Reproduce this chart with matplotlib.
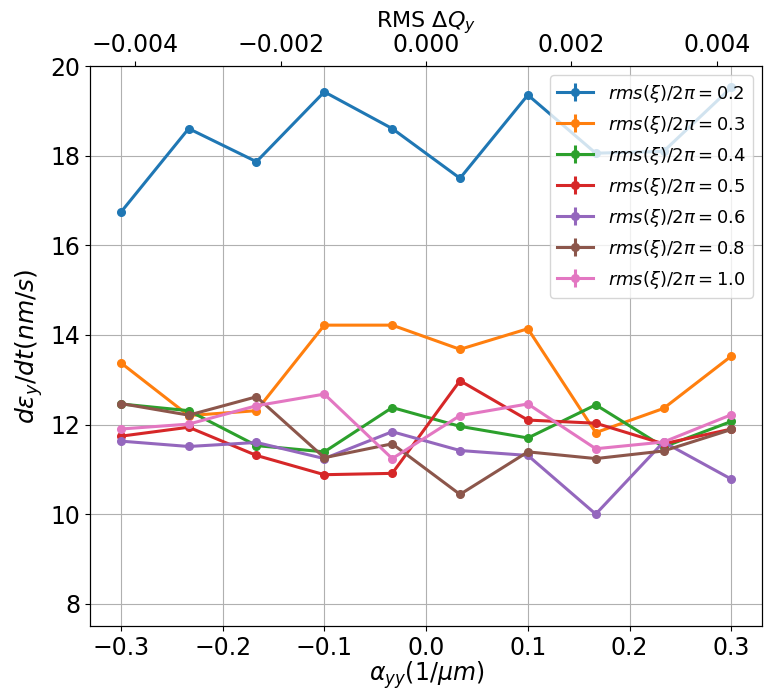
import matplotlib
matplotlib.use('Agg')
import matplotlib.pyplot as plt
import numpy as np

# alpha_yy values (1/um)
alpha = [-0.3, -0.2333, -0.1667, -0.1, -0.0333, 0.0333, 0.1, 0.1667, 0.2333, 0.3]

rms_labels = ['0.2', '0.3', '0.4', '0.5', '0.6', '0.8', '1.0']

rate_02 = [16.74, 18.61, 17.87, 19.43, 18.61, 17.50, 19.36, 18.06, 18.10, 19.53]
rate_03 = [13.38, 12.20, 12.31, 14.22, 14.22, 13.68, 14.14, 11.82, 12.36, 13.53]
rate_04 = [12.46, 12.31, 11.53, 11.39, 12.38, 11.96, 11.70, 12.44, 11.50, 12.07]
rate_05 = [11.74, 11.94, 11.31, 10.88, 10.91, 12.98, 12.10, 12.03, 11.57, 11.90]
rate_06 = [11.63, 11.51, 11.60, 11.24, 11.84, 11.42, 11.31, 10.00, 11.61, 10.78]
rate_08 = [12.47, 12.21, 12.62, 11.26, 11.57, 10.44, 11.39, 11.24, 11.41, 11.89]
rate_10 = [11.90, 12.01, 12.42, 12.68, 11.24, 12.20, 12.46, 11.46, 11.61, 12.22]

# error bars too small to see
rate_err = [0.0] * len(alpha)

# RMS dQy per unit alpha_yy
dq_scale = 0.014

series = [rate_02, rate_03, rate_04, rate_05, rate_06, rate_08, rate_10]

fig = plt.figure(figsize=(7.65, 6.91), dpi=100)
ax = fig.add_axes([0.118, 0.094, 0.878, 0.810])

for lab, vals in zip(rms_labels, series):
    ax.errorbar(alpha, vals, yerr=rate_err, marker='o', markersize=5.5, lw=2.2,
                label=r'$rms(\xi)/2\pi=$' + lab)

ax.set_ylim(7.5, 20)
ax.set_yticks([8, 10, 12, 14, 16, 18, 20])
ax.grid(True)
ax.tick_params(labelsize=17)
ax.set_xlabel(r'$\alpha_{yy}(1/\mu m)$', fontsize=17, labelpad=0)
ax.set_ylabel(r'$d\epsilon_y/dt(nm/s)$', fontsize=18)
ax.legend(loc='upper right', fontsize=13)

x0, x1 = ax.get_xlim()
ax2 = ax.twiny()
ax2.set_xlim(x0 * dq_scale, x1 * dq_scale)
ax2.set_xticks([-0.004, -0.002, 0.0, 0.002, 0.004])
ax2.tick_params(labelsize=17)
ax2.set_xlabel(r'RMS $\Delta Q_y$', fontsize=16, labelpad=4)

fig.savefig('out.png', dpi=100)
